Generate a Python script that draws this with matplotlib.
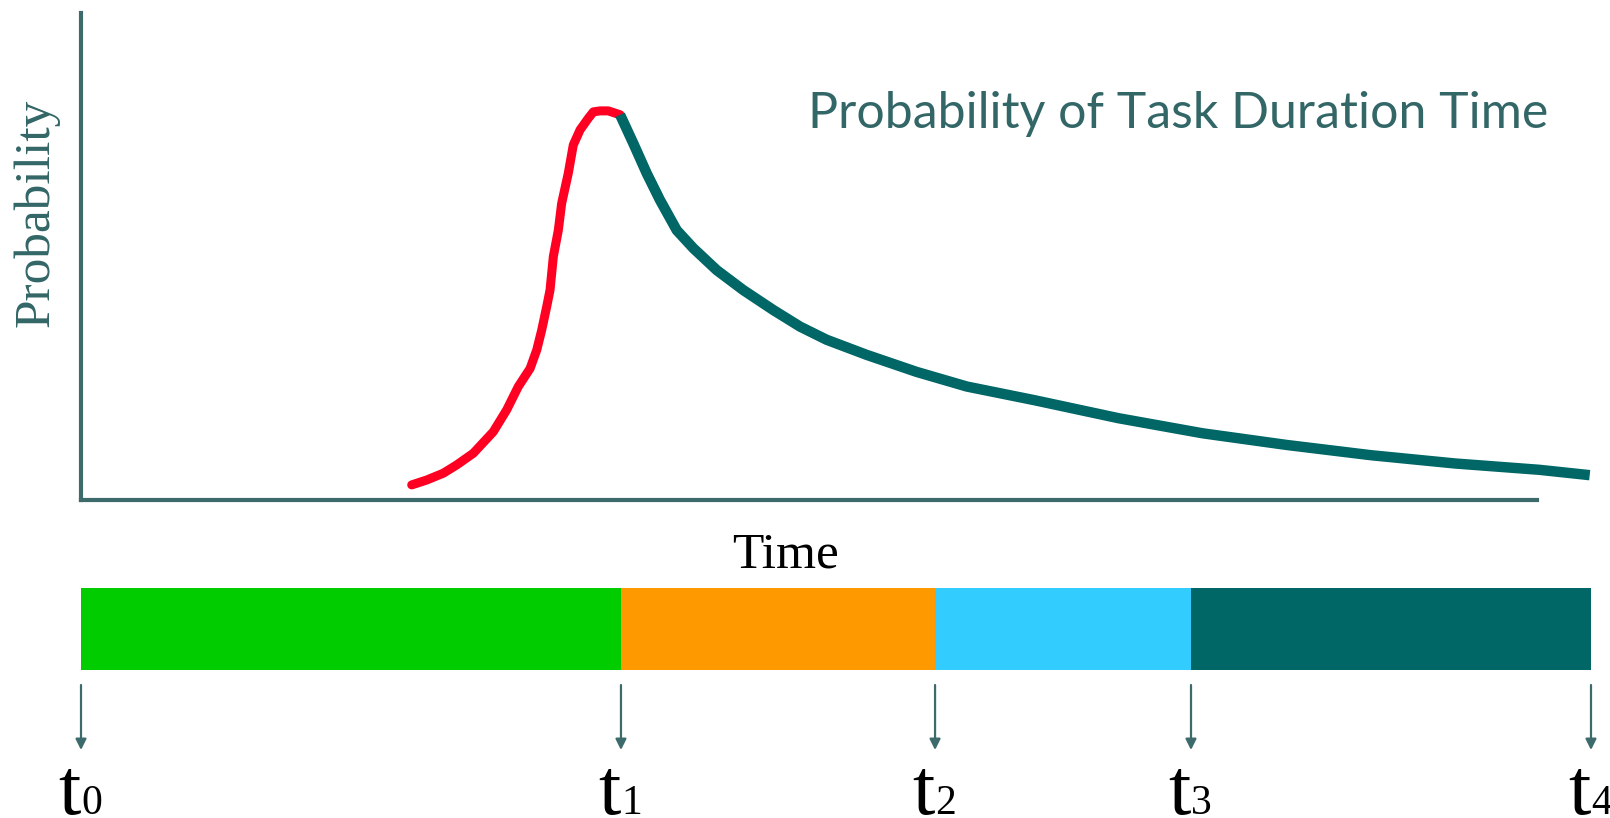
import matplotlib.pyplot as plt

# curve (time units: t0 = 0, t4 = 100; probability: axis = 0, top = 1)
rise_time = [21.90, 22.89, 23.99, 24.88, 25.98, 27.30, 28.19, 28.96, 29.74, 30.18,
             30.51, 30.84, 31.06, 31.28, 31.61, 31.83, 32.27, 32.60, 33.05, 33.60,
             33.93, 34.37, 34.92, 35.70]
rise_prob = [0.031, 0.041, 0.055, 0.072, 0.096, 0.140, 0.185, 0.233, 0.270, 0.308,
             0.349, 0.397, 0.431, 0.500, 0.554, 0.609, 0.671, 0.729, 0.760, 0.784,
             0.797, 0.799, 0.799, 0.791]

tail_time = [35.70, 36.58, 37.46, 38.34, 39.45, 40.55, 42.10, 43.86, 45.85, 47.62,
             49.38, 52.03, 55.34, 58.66, 63.13, 68.70, 74.27, 79.85, 85.42, 90.99,
             96.57, 99.91]
tail_prob = [0.791, 0.732, 0.671, 0.616, 0.554, 0.517, 0.472, 0.431, 0.390, 0.356,
             0.329, 0.298, 0.263, 0.233, 0.205, 0.168, 0.137, 0.113, 0.092, 0.075,
             0.062, 0.051]

# phase boundaries t0..t4
t_marks = [0, 35.76, 56.56, 73.51, 100]
t_labels = ['0', '1', '2', '3', '4']
phase_colors = ['#00cc00', '#ff9900', '#33ccff', '#006666']

W, H = 1610, 818
fig = plt.figure(figsize=(W / 100, H / 100), dpi=100)

axis_col = '#3d6b6b'
text_col = '#336666'

# probability plot
ax = fig.add_axes([81 / W, 1 - 500 / H, (1537 - 81) / W, (500 - 13) / H])
ax.set_xlim(0, 96.42)
ax.set_ylim(0, 1)
ax.plot(rise_time, rise_prob, color='#ff0022', lw=6.5, solid_capstyle='round',
        solid_joinstyle='round', clip_on=False)
ax.plot(tail_time, tail_prob, color='#006666', lw=7.5, solid_capstyle='butt',
        solid_joinstyle='round', clip_on=False)
for s in ['top', 'right']:
    ax.spines[s].set_visible(False)
for s in ['left', 'bottom']:
    ax.spines[s].set_color(axis_col)
    ax.spines[s].set_linewidth(3)
ax.set_xticks([])
ax.set_yticks([])

fig.text(1548 / W, 1 - 128 / H, 'Probability of Task Duration Time', ha='right', va='baseline',
         fontsize=36, family='Lato', color=text_col)
fig.text(36 / W, 1 - 213 / H, 'Probability', rotation=90, ha='center', va='center',
         fontsize=37, family='Liberation Serif', color=text_col)
fig.text(785 / W, 1 - 568 / H, 'Time', ha='center', va='baseline',
         fontsize=37, family='Liberation Serif', color='black')

# phase bar with arrows and labels
bx = fig.add_axes([81 / W, 0, 1510 / W, 230 / H])
bx.set_xlim(0, 100)
bx.set_ylim(0, 230)
bx.axis('off')
segs = [(t_marks[i], t_marks[i + 1] - t_marks[i]) for i in range(len(t_marks) - 1)]
bx.broken_barh(segs, (148, 82), facecolors=phase_colors)

for t, lab in zip(t_marks, t_labels):
    bx.annotate('', xy=(t, 68), xytext=(t, 133),
                arrowprops=dict(arrowstyle='-|>', color=axis_col, lw=1.6,
                                mutation_scale=16, shrinkA=0, shrinkB=0),
                annotation_clip=False)
    bx.text(t, 4, 't', ha='right', va='baseline', fontsize=58,
            family='Liberation Serif', color='black', clip_on=False)
    bx.text(t, 4, lab, ha='left', va='baseline', fontsize=30,
            family='Liberation Serif', color='black', clip_on=False)

fig.savefig('out.png', dpi=100)
